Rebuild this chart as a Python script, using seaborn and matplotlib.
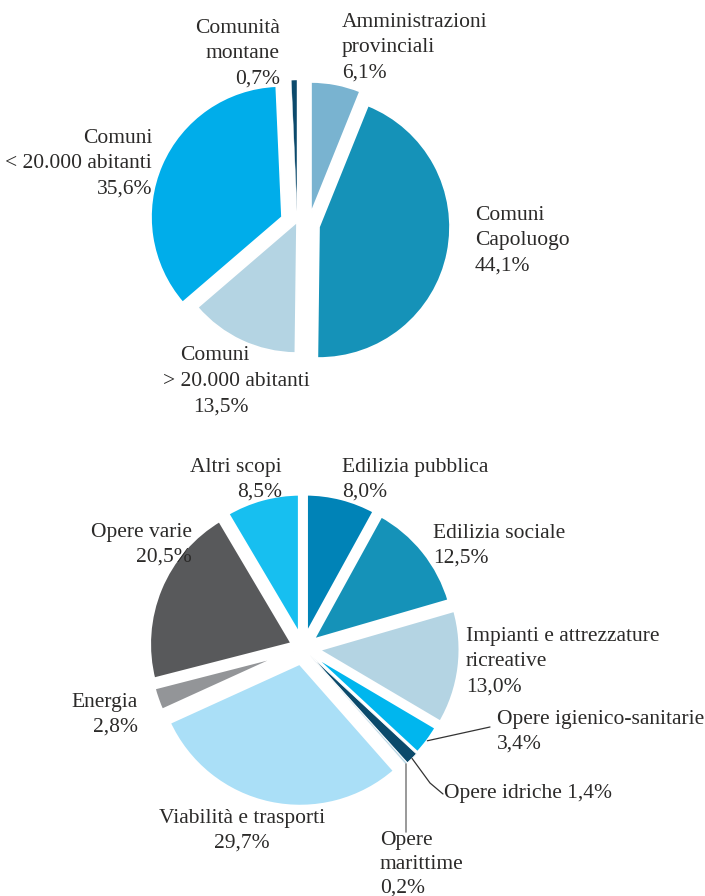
import matplotlib
matplotlib.use("Agg")
import matplotlib.pyplot as plt
import seaborn as sns
import numpy as np

W, H = 705, 896

# top pie: who spends
top_labels = ["Amministrazioni provinciali", "Comuni Capoluogo", "Comuni > 20.000 abitanti",
              "Comuni < 20.000 abitanti", "Comunità montane"]
top_values = [6.1, 44.1, 13.5, 35.6, 0.7]
top_colors = ["#79b3d0", "#1592b8", "#b4d4e3", "#00adea", "#0c4a6c"]
# how far each slice is pulled out (pixels, x right / y down)
top_shift = [(11, -9), (19, 5), (-3, 0), (-18, -5), (-3, -11)]

# bottom pie: what for
bot_labels = ["Edilizia pubblica", "Edilizia sociale", "Impianti e attrezzature ricreative",
              "Opere igienico-sanitarie", "Opere idriche", "Opere marittime",
              "Viabilità e trasporti", "Energia", "Opere varie", "Altri scopi"]
bot_values = [8.0, 12.5, 13.0, 3.4, 1.4, 0.2, 29.7, 2.8, 20.5, 8.5]
bot_colors = ["#0083b7", "#1592b8", "#b4d4e3", "#00b6ee", "#0b4a6b", "#b4d4e3",
              "#aadff7", "#939598", "#58595b", "#17bff0"]
bot_explode = [0.07, 0.07, 0.09, 0.07, 0.07, 0.07, 0.10, 0.07, 0.07, 0.07]

sns.set_theme(style="white")
plt.rcParams["font.family"] = ["Liberation Serif", "DejaVu Serif"]
TXT = "#2b2a29"
FS = 15.5

fig = plt.figure(figsize=(W / 100, H / 100), dpi=100)
ax = fig.add_axes([0, 0, 1, 1])

def py(y):
    # pixel row from top -> data y
    return H - y

top_c, top_r = (300, py(222)), 131
bot_c, bot_r = (303, py(648)), 145

top_w, _ = ax.pie(top_values, colors=sns.color_palette(top_colors), startangle=90,
                  counterclock=False, radius=top_r, center=top_c,
                  wedgeprops=dict(edgecolor="white", linewidth=1.2))
for w, (dx, dy) in zip(top_w, top_shift):
    w.set_center((top_c[0] + dx, top_c[1] - dy))
top_w[4].set_linewidth(0.3)

bot_w, _ = ax.pie(bot_values, colors=sns.color_palette(bot_colors),
                  explode=[e * bot_r for e in bot_explode], startangle=90,
                  counterclock=False, radius=bot_r, center=bot_c,
                  wedgeprops=dict(edgecolor="white", linewidth=3.5))
bot_w[3].set_linewidth(2)
bot_w[4].set_linewidth(0.6)
bot_w[5].set_linewidth(0.3)

ax.set_xlim(0, W)
ax.set_ylim(0, H)
ax.set_aspect("equal")
ax.axis("off")

def put(x, y, s, ha="left"):
    ax.text(x, py(y), s, ha=ha, va="center", fontsize=FS, color=TXT)

def block(x, y0, lines, ha="left", step=25.5):
    for i, s in enumerate(lines):
        put(x, y0 + i * step, s, ha)

# top labels
block(280, 28, ["Comunità", "montane", "0,7%"], "right")
block(342, 22, ["Amministrazioni", "provinciali", "6,1%"])
block(475, 215, ["Comuni", "Capoluogo", "44,1%"])
block(152, 138, ["Comuni", "< 20.000 abitanti", "35,6%"], "right")
put(180, 355, "Comuni")
put(163, 381, "> 20.000 abitanti")
put(193, 407, "13,5%")

# bottom labels
block(282, 467, ["Altri scopi", "8,5%"], "right")
block(342, 467, ["Edilizia pubblica", "8,0%"])
block(433, 533, ["Edilizia sociale", "12,5%"])
block(466, 636, ["Impianti e attrezzature", "ricreative", "13,0%"])
block(497, 719, ["Opere igienico-sanitarie", "3,4%"])
put(444, 793, "Opere idriche 1,4%")
block(380, 840, ["Opere", "marittime", "0,2%"], step=24)
block(242, 818, ["Viabilità e trasporti", "29,7%"], "center")
block(138, 702, ["Energia", "2,8%"], "right")
block(192, 532, ["Opere varie", "20,5%"], "right")

def edge_point(w):
    mid = np.deg2rad((w.theta1 + w.theta2) / 2)
    return w.center[0] + w.r * np.cos(mid), w.center[1] + w.r * np.sin(mid)

# leader lines for the small wedges
x0, y0 = edge_point(bot_w[3])
ax.plot([x0, 490], [y0, py(727)], color="#333333", lw=0.9)
x0, y0 = edge_point(bot_w[4])
ax.plot([x0, 430, 443], [y0, py(783), py(794)], color="#333333", lw=0.9)
x0, y0 = edge_point(bot_w[5])
ax.plot([x0, x0], [y0, py(832)], color="#888888", lw=1.2)

fig.savefig("out.png", dpi=100, facecolor="white")
